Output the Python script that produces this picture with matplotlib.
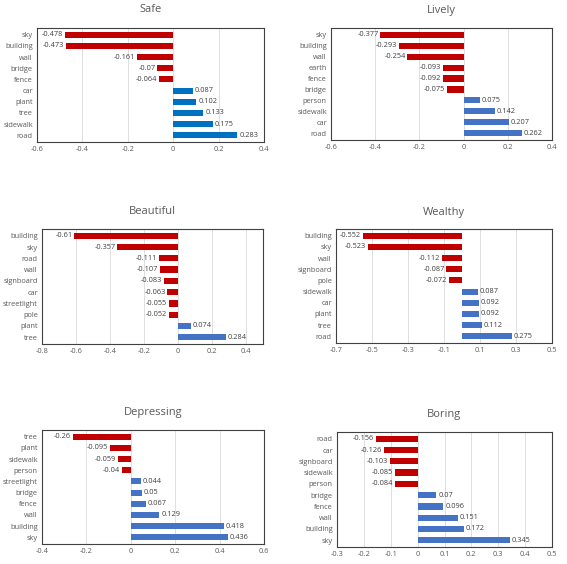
import matplotlib.pyplot as plt
import numpy as np

plt.rcParams['font.family'] = ['Open Sans', 'DejaVu Sans']

safe_labels = ['sky', 'building', 'wall', 'bridge', 'fence', 'car', 'plant', 'tree', 'sidewalk', 'road']
safe_values = [-0.478, -0.473, -0.161, -0.07, -0.064, 0.087, 0.102, 0.133, 0.175, 0.283]

lively_labels = ['sky', 'building', 'wall', 'earth', 'fence', 'bridge', 'person', 'sidewalk', 'car', 'road']
lively_values = [-0.377, -0.293, -0.254, -0.093, -0.092, -0.075, 0.075, 0.142, 0.207, 0.262]

beautiful_labels = ['building', 'sky', 'road', 'wall', 'signboard', 'car', 'streetlight', 'pole', 'plant', 'tree']
beautiful_values = [-0.61, -0.357, -0.111, -0.107, -0.083, -0.063, -0.055, -0.052, 0.074, 0.284]

wealthy_labels = ['building', 'sky', 'wall', 'signboard', 'pole', 'sidewalk', 'car', 'plant', 'tree', 'road']
wealthy_values = [-0.552, -0.523, -0.112, -0.087, -0.072, 0.087, 0.092, 0.092, 0.112, 0.275]

depressing_labels = ['tree', 'plant', 'sidewalk', 'person', 'streetlight', 'bridge', 'fence', 'wall', 'building', 'sky']
depressing_values = [-0.26, -0.095, -0.059, -0.04, 0.044, 0.05, 0.067, 0.129, 0.418, 0.436]

boring_labels = ['road', 'car', 'signboard', 'sidewalk', 'person', 'bridge', 'fence', 'wall', 'building', 'sky']
boring_values = [-0.156, -0.126, -0.103, -0.085, -0.084, 0.07, 0.096, 0.151, 0.172, 0.345]

W, H = 567, 564
fig = plt.figure(figsize=(W / 100, H / 100), dpi=100)

RED = '#C00000'
BLUE = '#4472C4'
TXT = '#595959'


def panel(box, title, title_y, labels, values, xlim, step, pos_color=BLUE):
    l, t, r, b = box
    ax = fig.add_axes([l / W, 1 - b / H, (r - l) / W, (b - t) / H])
    y = np.arange(len(labels))
    colors = [RED if v < 0 else pos_color for v in values]
    ax.barh(y, values, height=0.55, color=colors, zorder=3)
    off = 0.008 * (xlim[1] - xlim[0])
    for yi, v in zip(y, values):
        txt = f'{v:g}'
        if v < 0:
            ax.text(v - off, yi, txt, ha='right', va='center', fontsize=5.3, color='#404040')
        else:
            ax.text(v + off, yi, txt, ha='left', va='center', fontsize=5.3, color='#404040')
    ax.set_yticks(y)
    ax.set_yticklabels(labels)
    ax.set_ylim(len(labels) - 0.4, -0.6)
    ax.set_xlim(*xlim)
    ticks = np.round(np.arange(xlim[0], xlim[1] + step / 2, step), 2) + 0.0
    ax.set_xticks(ticks)
    ax.set_xticklabels([f'{tk:g}' if abs(tk) > 1e-9 else '0' for tk in ticks])
    ax.tick_params(length=0, labelsize=5.3, colors=TXT, pad=3)
    ax.grid(axis='x', color='#D9D9D9', linewidth=0.6, zorder=0)
    for s in ax.spines.values():
        s.set_color('#404040')
        s.set_linewidth(0.8)
    fig.text((l + r) / 2 / W, 1 - title_y / H, title, ha='center', va='center',
             fontsize=8, color=TXT)


panel((37, 28, 264, 142), 'Safe', 10, safe_labels, safe_values, (-0.6, 0.4), 0.2, pos_color='#0070C0')
panel((331, 28, 552, 140), 'Lively', 10, lively_labels, lively_values, (-0.6, 0.4), 0.2)
panel((42, 229, 263, 344), 'Beautiful', 212, beautiful_labels, beautiful_values, (-0.8, 0.5), 0.2)
panel((336, 229, 552, 343), 'Wealthy', 212, wealthy_labels, wealthy_values, (-0.7, 0.5), 0.2)
panel((42, 430, 264, 544), 'Depressing', 412, depressing_labels, depressing_values, (-0.4, 0.6), 0.2)
panel((337, 432, 552, 547), 'Boring', 415, boring_labels, boring_values, (-0.3, 0.5), 0.1)

fig.savefig('out.png', dpi=100)
